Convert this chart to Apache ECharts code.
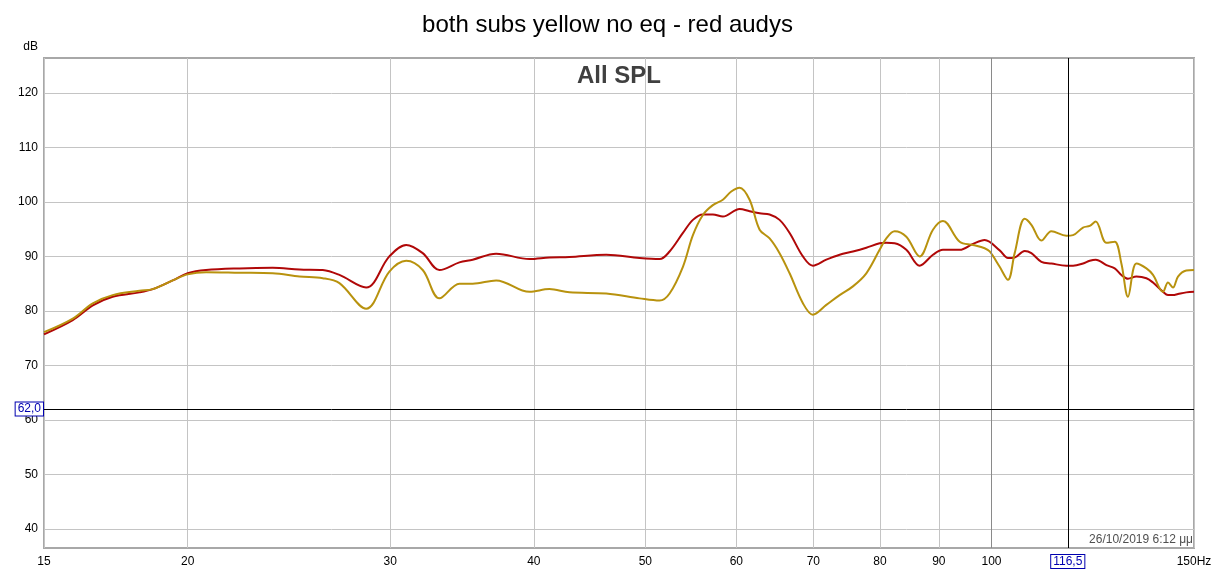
<!DOCTYPE html>
<html><head><meta charset="utf-8">
<script src="https://cdn.jsdelivr.net/npm/echarts@6/dist/echarts.min.js"></script>
<style>html,body{margin:0;padding:0;background:#fff}#c{width:1215px;height:573px}</style>
</head><body><div id="c"></div>
<script>
// Frequencies (Hz) and SPL (dB)
const freqRed = [15.0,15.89,16.54,17.21,18.16,18.65,19.41,20.0,20.75,22.19,23.71,25.02,26.21,27.10,28.59,29.95,30.98,32.02,33.11,34.46,35.39,37.09,39.65,41.26,42.95,46.24,49.43,51.45,52.49,53.91,55.00,56.11,57.24,58.40,60.39,61.61,62.86,64.13,65.42,66.75,68.55,69.93,71.84,73.78,75.77,77.83,79.93,81.01,82.37,84.32,86.60,88.94,90.74,93.83,96.36,98.64,101.65,103.36,104.75,106.87,108.31,110.51,112.74,116.18,117.73,120.11,121.73,123.20,125.87,127.98,129.70,131.43,133.66,136.37,138.18,140.97,142.39,143.82,145.27,147.70,150.0];
const splRed = [75.7,78.3,81.0,82.6,83.4,84.0,85.6,86.9,87.5,87.8,87.9,87.6,87.5,86.6,84.3,90.0,92.1,90.6,87.5,88.9,89.4,90.5,89.5,89.8,89.9,90.3,89.7,89.5,90.9,94.3,96.7,97.7,97.7,97.3,98.7,98.3,97.9,97.7,96.7,94.3,90.0,88.3,89.4,90.3,90.9,91.6,92.4,92.5,92.4,91.2,88.3,90.3,91.2,91.2,92.3,93.0,91.1,89.7,89.8,91.0,90.6,89.0,88.7,88.3,88.3,88.7,89.2,89.4,88.4,87.8,86.6,85.9,86.3,86.0,85.2,83.5,82.9,82.9,83.1,83.4,83.5];
const freqYellow = [15.0,15.89,16.54,17.21,18.16,18.65,19.41,20.0,20.75,22.19,23.71,25.02,26.21,27.10,28.59,29.95,30.98,32.02,33.11,34.46,35.39,37.09,39.65,41.26,42.95,46.24,49.43,51.45,52.49,53.91,55.00,56.11,57.24,58.40,59.39,60.39,61.61,62.86,64.13,65.42,66.75,68.55,69.93,71.84,73.78,75.77,77.83,79.93,81.01,82.37,84.32,86.60,88.94,90.74,93.83,96.36,98.64,99.64,101.65,103.36,104.75,106.87,108.31,110.51,112.74,116.18,117.73,120.11,121.73,123.20,125.87,127.98,129.70,131.43,133.66,136.37,138.18,140.97,142.39,143.82,145.27,147.70,150.0];
const splYellow = [76.1,78.6,81.4,82.9,83.7,84.0,85.6,86.7,87.1,87.0,86.9,86.3,86.0,85.1,80.4,87.2,89.2,87.5,82.3,85.0,85.0,85.6,83.5,84.0,83.4,83.2,82.3,81.9,83.2,88.1,93.9,97.6,99.4,100.4,101.9,102.6,100.4,94.9,93.3,90.6,86.9,81.4,79.3,81.1,82.9,84.5,86.9,91.2,93.3,94.6,93.6,90.0,94.9,96.5,92.7,92.1,91.5,90.9,88.1,85.7,90.6,96.9,95.8,92.9,94.6,93.8,93.9,95.3,95.6,96.4,92.5,92.7,88.7,82.6,88.7,87.8,86.6,83.5,85.2,84.3,86.3,87.4,87.5];
const xTicks = [15,20,30,40,50,60,70,80,90,100,150];
const yTicks = [40,50,60,70,80,90,100,110,120];
const cursorDb = 62.0;
const cursorHz = 116.5;
const titleText = 'both subs yellow no eq - red audys';
const subTitle = 'All SPL';
const stamp = '26/10/2019 6:12 μμ';

const FONT = 'Liberation Sans, Arial, sans-serif';
const pair = (xs, ys) => xs.map((x, i) => [x, ys[i]]);
const comma = v => v.toFixed(1).replace('.', ',');

const chart = echarts.init(document.getElementById('c'), null, {renderer: 'canvas'});
chart.setOption({
  animation: false,
  backgroundColor: '#fff',
  title: [
    {text: titleText, left: 'center', top: 8, textStyle: {fontFamily: FONT, fontSize: 24, fontWeight: 'normal', color: '#000'}}
  ],
  grid: {left: 44, right: 21, top: 58, bottom: 25, show: true, borderColor: '#a8a8a8', borderWidth: 2, backgroundColor: 'transparent'},
  xAxis: {
    type: 'log', logBase: 10, min: 15, max: 150,
    axisLine: {show: false},
    axisTick: {show: false, customValues: xTicks},
    axisLabel: {customValues: xTicks, margin: 8, fontFamily: FONT, fontSize: 12, color: '#000',
      formatter: v => { const r = Math.round(v); return r === 150 ? '150Hz' : String(r); }},
    splitLine: {show: true, lineStyle: {color: '#c4c4c4', width: 1}}
  },
  yAxis: {
    type: 'value', min: 36.5, max: 126.4,
    name: 'dB', nameLocation: 'end', nameGap: 5,
    nameTextStyle: {fontFamily: FONT, fontSize: 12, color: '#000', align: 'right', padding: [0, 6, 0, 0]},
    axisLine: {show: false},
    axisTick: {show: false, customValues: yTicks},
    axisLabel: {customValues: yTicks, margin: 6, fontFamily: FONT, fontSize: 12, color: '#000'},
    splitLine: {show: true, lineStyle: {color: '#c4c4c4', width: 1}}
  },
  series: [
    {
      name: 'red audys', type: 'line', data: pair(freqRed, splRed), smooth: 0.35,
      showSymbol: false, symbol: 'none', lineStyle: {color: '#b00808', width: 2}, z: 3,
      markLine: {
        silent: true, symbol: ['none', 'none'], animation: false,
        data: [
          {xAxis: 100, lineStyle: {color: '#8a8a8a', width: 1, type: 'solid'}, label: {show: false}},
          {yAxis: cursorDb, lineStyle: {color: '#000', width: 1, type: 'solid'},
            label: {show: true, position: 'start', distance: 1, formatter: () => comma(cursorDb),
              fontFamily: FONT, fontSize: 12, color: '#0000b0', backgroundColor: '#fff',
              borderColor: '#0000b0', borderWidth: 1, padding: [1, 2, 0, 2]}},
          {xAxis: cursorHz, lineStyle: {color: '#000', width: 1, type: 'solid'},
            label: {show: true, position: 'start', distance: 7, formatter: () => comma(cursorHz),
              fontFamily: FONT, fontSize: 12, color: '#0000b0', backgroundColor: '#fff',
              borderColor: '#0000b0', borderWidth: 1, padding: [1, 2, 0, 2]}}
        ]
      }
    },
    {
      name: 'both subs yellow', type: 'line', data: pair(freqYellow, splYellow), smooth: 0.35,
      showSymbol: false, symbol: 'none', lineStyle: {color: '#b8920e', width: 2}, z: 4
    }
  ],
  graphic: [
    {type: 'text', x: 619, y: 76, z: 10,
      style: {text: subTitle, fontFamily: FONT, fontSize: 24, fontWeight: 'bold', fill: '#404040', align: 'center', verticalAlign: 'middle'}},
    {type: 'text', right: 22, bottom: 27, z: 10,
      style: {text: stamp, fontFamily: FONT, fontSize: 12, fill: '#505050', backgroundColor: '#fff'}}
  ]
});
</script>
</body></html>
